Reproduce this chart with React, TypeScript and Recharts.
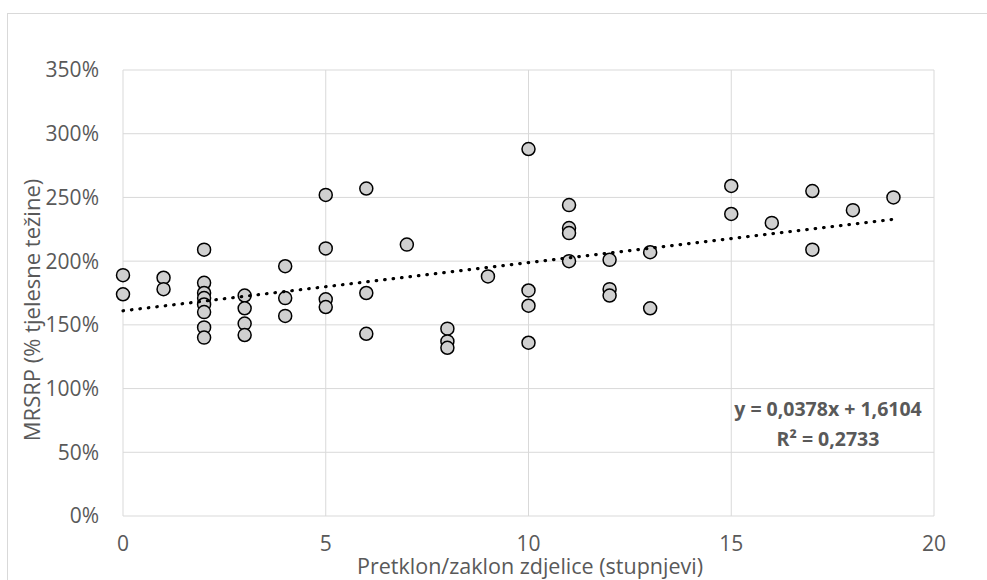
import * as React from "react";
import {
  ScatterChart,
  Scatter,
  XAxis,
  YAxis,
  CartesianGrid,
  Customized,
} from "recharts";

// tilt in degrees, MRSRP as a fraction of body weight
const tiltDeg = [
  0, 0, 1, 1, 2, 2, 2, 2, 2, 2, 2, 2, 3, 3, 3, 3, 4, 4, 4, 5, 5, 5, 5, 6, 6, 6,
  7, 8, 8, 8, 9, 10, 10, 10, 10, 11, 11, 11, 11, 12, 12, 12, 13, 13, 15, 15, 16,
  17, 17, 18, 19,
];
const mrsrp = [
  1.89, 1.74, 1.87, 1.78, 2.09, 1.83, 1.75, 1.71, 1.66, 1.6, 1.48, 1.4, 1.73,
  1.63, 1.51, 1.42, 1.96, 1.71, 1.57, 2.52, 2.1, 1.7, 1.64, 2.57, 1.75, 1.43,
  2.13, 1.47, 1.37, 1.32, 1.88, 2.88, 1.77, 1.65, 1.36, 2.44, 2.26, 2.22, 2.0,
  2.01, 1.78, 1.73, 2.07, 1.63, 2.59, 2.37, 2.3, 2.55, 2.09, 2.4, 2.5,
];
const xTicks = [0, 5, 10, 15, 20];
const yTicks = [0, 0.5, 1, 1.5, 2, 2.5, 3, 3.5];

// linear trend shown in the chart
const slope = 0.0378;
const intercept = 1.6104;
const trendX = [0, 19];

const points = tiltDeg.map((x, i) => ({ x, y: mrsrp[i] }));
const trend = trendX.map((x) => ({ x, y: intercept + slope * x }));

const FONT = "'Open Sans', sans-serif";
const GRAY = "#595959";

const Dot = (props: any) => (
  <circle
    cx={props.cx}
    cy={props.cy}
    r={6.5}
    fill="#d0d0d0"
    stroke="#000"
    strokeWidth={1.5}
  />
);

const Titles = () => (
  <g fontFamily={FONT} fill={GRAY}>
    <text
      x={31}
      y={310}
      fontSize={22}
      textAnchor="middle"
      dominantBaseline="central"
      transform="rotate(-90 31 310)"
    >
      MRSRP (% tjelesne težine)
    </text>
    <text x={530} y={565} fontSize={21.5} textAnchor="middle" dominantBaseline="central">
      Pretklon/zaklon zdjelice (stupnjevi)
    </text>
    <text x={828} y={408} fontSize={19.5} fontWeight="bold" textAnchor="middle" dominantBaseline="central">
      y = 0,0378x + 1,6104
    </text>
    <text x={828} y={438} fontSize={19.5} fontWeight="bold" textAnchor="middle" dominantBaseline="central">
      R² = 0,2733
    </text>
  </g>
);

export default function App() {
  return (
    <div
      style={{
        position: "absolute",
        left: 0,
        top: 0,
        width: 987,
        height: 580,
        overflow: "hidden",
        background: "#fff",
      }}
    >
      <div
        style={{
          position: "absolute",
          left: 7,
          top: 13,
          width: 1000,
          height: 600,
          border: "1px solid #d9d9d9",
        }}
      />
      <div style={{ position: "absolute", left: 0, top: 0 }}>
        <ScatterChart
          width={987}
          height={580}
          margin={{ top: 70, right: 53, bottom: 24, left: 0 }}
        >
          <CartesianGrid stroke="#d9d9d9" strokeWidth={1} />
          <XAxis
            type="number"
            dataKey="x"
            domain={[0, 20]}
            ticks={xTicks}
            axisLine={false}
            tickLine={false}
            tickSize={0}
            tickMargin={20}
            height={40}
            tick={{ fill: GRAY, fontSize: 21, fontFamily: FONT }}
          />
          <YAxis
            type="number"
            dataKey="y"
            domain={[0, 3.5]}
            ticks={yTicks}
            axisLine={false}
            tickLine={false}
            tickSize={0}
            tickMargin={24}
            width={123}
            tickFormatter={(v: number) => `${Math.round(v * 100)}%`}
            tick={{ fill: GRAY, fontSize: 21, fontFamily: FONT }}
          />
          <Scatter data={points} shape={Dot} isAnimationActive={false} />
          <Scatter
            data={trend}
            shape={() => <g />}
            line={{
              stroke: "#000",
              strokeWidth: 3.2,
              strokeDasharray: "0.5 8",
              strokeLinecap: "round",
            }}
            isAnimationActive={false}
          />
          <Customized component={Titles} />
        </ScatterChart>
      </div>
    </div>
  );
}
